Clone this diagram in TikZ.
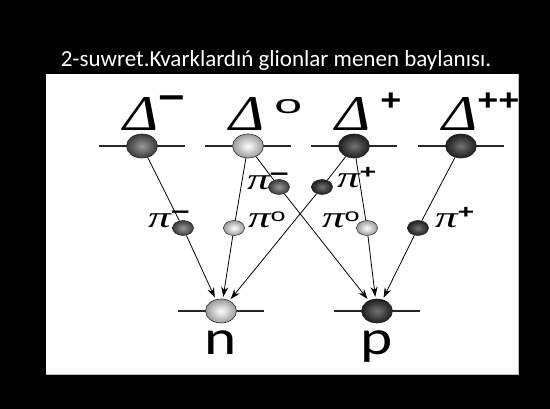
\documentclass[tikz,border=0pt]{standalone}
\usepackage{graphicx}
\usepackage{fontspec}
\setmainfont{Carlito}
\newfontfamily\grkfont{Liberation Serif}
\newfontfamily\signfont{Liberation Sans}
\usetikzlibrary{arrows.meta,positioning,shapes.geometric}
\definecolor{balldark}{HTML}{1E1E1E}
\definecolor{ballmid}{HTML}{3A3A3A}
\definecolor{balllight}{HTML}{9A9A9A}
\pgfdeclarelayer{panel}
\pgfdeclarelayer{links}
\pgfsetlayers{panel,links,main}

\newcommand{\dsym}[1]{\scalebox{1.2}[1]{Δ#1}}
\newcommand{\psym}[1]{\scalebox{1.5}[1]{π#1}}
\newcommand{\chg}[3]{\raisebox{#1}{\signfont\bfseries\upshape\fontsize{#2}{#2}\selectfont #3}}
\newcommand{\chgo}[3]{\raisebox{#1}{\signfont\upshape\fontsize{#2}{#2}\selectfont #3}}

\tikzset{
  baryon/.style={ellipse, minimum width=31pt, minimum height=24pt, inner sep=0pt,
    draw=black!85, line width=0.6pt},
  pion/.style={ellipse, minimum width=21pt, minimum height=15pt, inner sep=0pt,
    draw=black!85, line width=0.5pt},
  darkball/.style={shading=radial, inner color=black!55, outer color=balldark},
  midball/.style={shading=radial, inner color=black!40, outer color=ballmid},
  lightball/.style={shading=radial, inner color=white, outer color=balllight},
  level/.style={line width=2.4pt, black!85},
  link/.style={line width=0.8pt},
  decay/.style={link, shorten >=2pt, -{Stealth[length=10pt,width=7pt]}},
  dlabel/.style={font=\grkfont\itshape\fontsize{50}{50}\selectfont, inner sep=0pt, anchor=base west},
  plabel/.style={font=\grkfont\itshape\fontsize{30}{30}\selectfont, inner sep=0pt, anchor=base west},
  nlabel/.style={font=\fontsize{49}{49}\selectfont, inner sep=0pt, anchor=base},
}

\begin{document}
\begin{tikzpicture}[x=1pt,y=-1pt]
  \useasboundingbox (0,0) rectangle (550,409);
  \begin{pgfonlayer}{panel}
    \fill[black] (0,0) rectangle (550,409);
    \fill[white] (46,74) rectangle (518,374);
    \draw[black!25, line width=0.8pt] (46,374) -- (518,374) -- (518,74);
  \end{pgfonlayer}

  \node[text=white, font=\fontsize{23}{26}\selectfont, anchor=base] (title) at (276,67)
    {2-suwret.Kvarklardıń glionlar menen baylanısı.};

  % baryons
  \node[baryon, midball] (d1) at (142,146) {};
  \node[baryon, lightball] (d2) at (248,146) {};
  \node[baryon, darkball] (d3) at (354,146) {};
  \node[baryon, darkball] (d4) at (461,146) {};
  \node[baryon, lightball] (n) at (221,311) {};
  \node[baryon, darkball] (p) at (377,311) {};

  % pions
  \node[pion, midball] (pm1) at (279,187) {};
  \node[pion, darkball] (pp1) at (322,187) {};
  \node[pion, midball] (pm2) at (183,228) {};
  \node[pion, lightball] (pz1) at (234,228) {};
  \node[pion, lightball] (pz2) at (367,228) {};
  \node[pion, darkball] (pp2) at (418,228) {};

  \node[dlabel] (ld1) at ([xshift=-19pt,yshift=15pt]d1.center) {\dsym{\chg{20pt}{38}{−}}};
  \node[dlabel] (ld2) at ([xshift=-19pt,yshift=15pt]d2.center) {\dsym{\,\chgo{17pt}{26}{\scalebox{1.6}[1]{o}}}};
  \node[dlabel] (ld3) at ([xshift=-19pt,yshift=15pt]d3.center) {\dsym{\,\chg{20pt}{30}{+}}};
  \node[dlabel] (ld4) at ([xshift=-19pt,yshift=15pt]d4.center) {\dsym{\chg{20pt}{30}{++}}};

  \node[plabel] (lpm1) at ([xshift=-32pt,yshift=-3pt]pm1.center) {\psym{\chg{8pt}{22}{−}}};
  \node[plabel] (lpp1) at ([xshift=15pt,yshift=-1pt]pp1.center) {\psym{\chg{9pt}{19}{+}}};
  \node[plabel] (lpm2) at ([xshift=-35pt]pm2.center) {\psym{\chg{8pt}{22}{−}}};
  \node[plabel] (lpz1) at ([xshift=14pt]pz1.center) {\psym{\chgo{6pt}{18}{o}}};
  \node[plabel] (lpz2) at ([xshift=-45pt]pz2.center) {\psym{\chgo{6pt}{18}{o}}};
  \node[plabel] (lpp2) at ([xshift=17pt]pp2.center) {\psym{\chg{9pt}{19}{+}}};

  \node[nlabel] (ln) at ([yshift=-44pt]n.center) {\scalebox{1.25}[1]{n}};
  \node[nlabel] (lp) at ([yshift=-44pt]p.center) {\scalebox{1.25}[1]{p}};

  \begin{pgfonlayer}{links}
    \foreach \b in {d1,d2,d3,d4,n,p}
      \draw[level] ([xshift=-43pt]\b.center) -- ([xshift=43pt]\b.center);
    \draw[link] (d1) -- (pm2);
    \draw[decay] (pm2) -- (n);
    \draw[link] (d2) -- (pz1);
    \draw[decay] (pz1) -- (n);
    \draw[link] (d2) -- (pm1);
    \draw[decay] (pm1) -- (p);
    \draw[link] (d3) -- (pp1);
    \draw[decay] (pp1) -- (n);
    \draw[link] (d3) -- (pz2);
    \draw[decay] (pz2) -- (p);
    \draw[link] (d4) -- (pp2);
    \draw[decay] (pp2) -- (p);
  \end{pgfonlayer}
\end{tikzpicture}
\end{document}
